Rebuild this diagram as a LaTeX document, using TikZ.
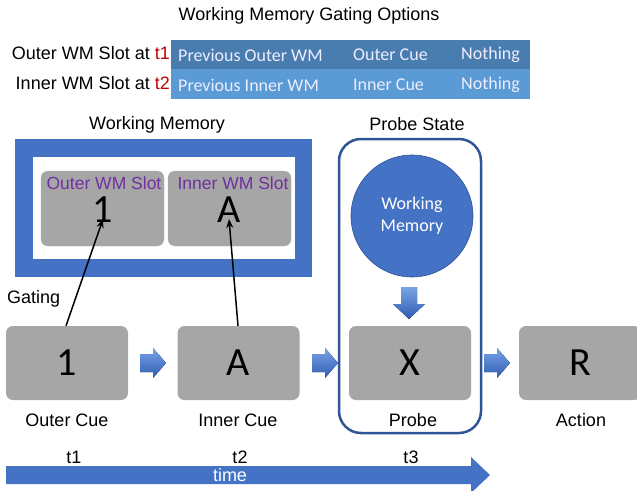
\documentclass[tikz,border=0pt]{standalone}
\usepackage{fontspec}
\setmainfont{Liberation Sans}
\newfontfamily\calib{Carlito}
\usetikzlibrary{arrows.meta,shapes.geometric}
\definecolor{rowA}{HTML}{4A7DAF}
\definecolor{rowB}{HTML}{5B9BD5}
\definecolor{wmblue}{HTML}{4472C4}
\definecolor{edgeblue}{HTML}{2F5597}
\definecolor{slotgray}{HTML}{A6A6A6}
\definecolor{slotpurple}{HTML}{7030A0}
\definecolor{tred}{HTML}{C00000}
\definecolor{arrlight}{HTML}{7AA4E8}
\definecolor{arrdark}{HTML}{2E5CB0}
\tikzset{
  lbl/.style={font=\fontsize{18}{21}\selectfont, inner sep=0pt},
  tabtxt/.style={font=\calib\fontsize{18}{21}\selectfont, text=white!93!blue, inner sep=0pt, anchor=west},
  cuebox/.style={fill=slotgray, rounded corners=7pt, minimum width=122pt, minimum height=74pt, inner sep=0pt, font=\calib\fontsize{40}{42}\selectfont},
  slotbox/.style={fill=slotgray, draw=slotgray!85!white, rounded corners=7pt, minimum width=123pt, minimum height=75pt, inner sep=0pt},
  slotlbl/.style={font=\fontsize{17.5}{20}\selectfont, text=slotpurple, inner sep=0pt},
  digit/.style={font=\calib\fontsize{40}{42}\selectfont, inner sep=0pt},
  gatearrow/.style={line width=1.5pt, -{Stealth[length=9pt,width=7pt]}},
  blockarr/.style={top color=arrlight, bottom color=arrdark, draw=none},
}
\begin{document}
\begin{tikzpicture}[x=1pt,y=-1pt]
\useasboundingbox (0,0) rectangle (637,490);

% title
\node[lbl] (title) at (309,16) {Working Memory Gating Options};

% table
\fill[rowA] (171,40) rectangle (530,68.5);
\fill[rowB] (171,68.5) rectangle (530,98.5);
\node[tabtxt] (r1c1) at (178,55) {Previous Outer WM};
\node[tabtxt] (r1c2) at (353,55) {Outer Cue};
\node[tabtxt] (r1c3) at (461,55) {Nothing};
\node[tabtxt] (r2c1) at (178,85) {Previous Inner WM};
\node[tabtxt] (r2c2) at (353,85) {Inner Cue};
\node[tabtxt] (r2c3) at (461,85) {Nothing};
\node[lbl, anchor=east] (outerlbl) at (170,53) {Outer WM Slot at \textcolor{tred}{t1}};
\node[lbl, anchor=east] (innerlbl) at (170,83) {Inner WM Slot at \textcolor{tred}{t2}};

% working memory
\node[lbl] (wmlabel) at (157,125) {Working Memory};
\fill[wmblue] (15,139) rectangle (312,277);
\fill[white] (33,157) rectangle (295,259);
\node[slotbox] (slot1) at (102.5,208.5) {};
\node[slotbox] (slot2) at (229.5,208.5) {};
\node[slotlbl] (s1lbl) at (104,183) {Outer WM Slot};
\node[slotlbl] (s2lbl) at (233,183) {Inner WM Slot};
\node[digit] (d1) at (103,210) {1};
\node[digit] (dA) at (229,210) {A};

% probe state
\node[lbl] (pslabel) at (417,124) {Probe State};
\node[draw=edgeblue, line width=2.5pt, rounded corners=22pt, minimum width=142pt, minimum height=294pt, inner sep=0pt] (probestate) at (410,286) {};
\node[circle, fill=wmblue, draw=edgeblue, line width=0.6pt, minimum size=122pt, inner sep=0pt, align=center, text=white, font=\calib\fontsize{18}{22}\selectfont] (wmcircle) at (412,216) {Working\\Memory};
\fill[blockarr] (401,287) -- (417,287) -- (417,304) -- (425,304) -- (409,319) -- (393,304) -- (401,304) -- cycle;

% cue boxes
\node[cuebox] (oc) at (67,363) {1};
\node[cuebox] (ic) at (238.5,363) {A};
\node[cuebox] (pr) at (410,363) {X};
\node[cuebox] (ac) at (580,363) {R};
\node[lbl] (oclbl) at (67,420) {Outer Cue};
\node[lbl] (iclbl) at (238,420) {Inner Cue};
\node[lbl] (prlbl) at (413,420) {Probe};
\node[lbl] (aclbl) at (581,420) {Action};
\node[lbl, anchor=west] (gating) at (7,299) {Gating};

\foreach \x in {140,312,484}{
  \fill[blockarr] (\x,354) -- (\x+13,354) -- (\x+13,348) -- (\x+26,363) -- (\x+13,378) -- (\x+13,372) -- (\x,372) -- cycle;
}

% gating arrows
\draw[gatearrow] ([xshift=-1pt]oc.north) -- ([yshift=4pt]d1.south);
\draw[gatearrow] ([xshift=-0.5pt]ic.north) -- ([yshift=4pt]dA.south);

% time arrow
\fill[wmblue] (6,466) -- (471,466) -- (471,457) -- (490,475) -- (471,493) -- (471,484) -- (6,484) -- cycle;
\node[lbl] (t1) at (74,457) {t1};
\node[lbl] (t2) at (240,457) {t2};
\node[lbl] (t3) at (411,457) {t3};
\node[lbl, text=white] (time) at (230,475) {time};
\end{tikzpicture}
\end{document}
